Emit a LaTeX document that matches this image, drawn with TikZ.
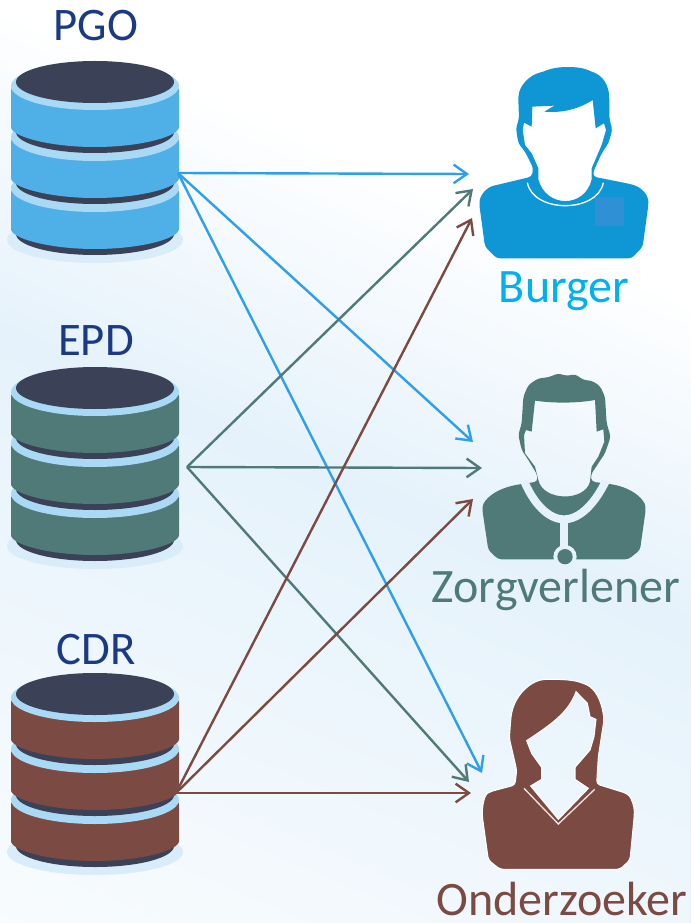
\documentclass[tikz,border=0pt]{standalone}
\usepackage{fontspec}
\setmainfont{Carlito}
\usetikzlibrary{arrows.meta}
\definecolor{bgmid}{HTML}{E5F2FB}
\definecolor{dbdark}{HTML}{3B4257}
\definecolor{dbring}{HTML}{A9D9F5}
\definecolor{dbshadow}{HTML}{D8ECF9}
\definecolor{pgoblue}{HTML}{4FB0E8}
\definecolor{epdgreen}{HTML}{4F7A77}
\definecolor{cdrbrown}{HTML}{7B4A42}
\definecolor{arrowblue}{HTML}{2F9FEA}
\definecolor{burgerblue}{HTML}{0F96D4}
\definecolor{burgerpatch}{HTML}{2F90D6}
\definecolor{burgertext}{HTML}{00B0F0}
\definecolor{titleblue}{HTML}{1B3A85}
\tikzset{
  tag/.style={font=\fontsize{35}{40}\selectfont, anchor=base, inner sep=0pt},
  bigtag/.style={tag, font=\fontsize{36}{40}\selectfont},
  flow/.style={-{Straight Barb[length=10pt,width=14pt]}, line width=1.8pt},
}
% one layer of a database, #1 = top of the layer, #2 = colour
\def\dblayer#1#2{
  \fill[dbdark] (95, #1+46) ellipse [x radius=79, y radius=21];
  \fill[#2, rounded corners=3pt] (11, #1) -- (11, #1+37) arc [start angle=180, end angle=0, x radius=84, y radius=24] -- (179, #1) -- cycle;
  \fill[dbring] (95, #1) ellipse [x radius=84, y radius=24];
}
% #1 = top of the stack, #2 = colour
\def\dbstack#1#2{
  \fill[dbshadow] (95, #1+154) ellipse [x radius=88, y radius=23];
  \dblayer{#1+102}{#2}
  \dblayer{#1+51}{#2}
  \dblayer{#1}{#2}
  \fill[dbdark] (95, #1-4) ellipse [x radius=79, y radius=21];
}

\begin{document}
\begin{tikzpicture}[x=0.75pt, y=-0.75pt]
  \useasboundingbox (0, 0) rectangle (690, 923);
  % background
  \begin{scope}
    \clip (0, 0) rectangle (690, 923);
    \fill[white] (0, 0) rectangle (690, 923);
    \foreach \d in {0,8,...,856} {
      \pgfmathsetmacro\tint{\d<300 ? \d/3 : 100-(\d-300)/550*75}
      \fill[bgmid!\tint!white, rotate=-23] (-500, \d) rectangle (1300, 1400);
    }
  \end{scope}

  % databases
  \dbstack{86}{pgoblue}
  \dbstack{392}{epdgreen}
  \dbstack{698}{cdrbrown}
  \node[tag, text=titleblue] (pgo) at (96, 41) {PGO};
  \node[tag, text=titleblue] (epd) at (96, 355) {EPD};
  \node[tag, text=titleblue] (cdr) at (96, 664) {CDR};

  % burger
  \begin{scope}[shift={(450, 50)}, scale=1/3]
    \fill[burgerblue, even odd rule, rounded corners=2.5pt]
      (478, 175) -- (478, 205)
      -- (487, 240) -- (475, 280) -- (455, 310) -- (430, 365) -- (430, 380) -- (540, 402)
      .. controls (575, 412) and (595, 435) .. (595, 465) -- (578, 590) -- (545, 625) -- (140, 625) -- (105, 590) -- (88, 465)
      .. controls (90, 435) and (110, 412) .. (140, 405) -- (245, 380) -- (250, 355) -- (225, 305)
      -- (205, 280) -- (198, 235) -- (207, 205) -- (205, 150)
      .. controls (207, 105) and (240, 75) .. (280, 65)
      .. controls (320, 48) and (385, 48) .. (420, 63)
      .. controls (460, 78) and (476, 105) .. (478, 150) -- cycle
      [sharp corners]
      (247, 170) -- (313, 167) -- (283, 185) .. controls (340, 190) and (390, 175) .. (428, 150) -- (437, 235)
      -- (462, 220) -- (468, 240) -- (455, 285) -- (425, 355) -- (425, 388)
      .. controls (405, 475) and (288, 475) .. (265, 388) -- (265, 355) -- (245, 310) -- (225, 285)
      -- (218, 240) -- (222, 218) -- (245, 230) -- cycle;
    \draw[white, line width=1pt] (232, 398) .. controls (250, 490) and (442, 490) .. (460, 398);
    \fill[burgerpatch] (435, 440) rectangle (522, 527);
  \end{scope}
  \node[bigtag, text=burgertext] (burger) at (564, 302) {Burger};

  % zorgverlener
  \begin{scope}[shift={(420, 360)}, scale=1/3]
    \fill[epdgreen, even odd rule, rounded corners=2.5pt]
      (415, 40) -- (440, 48) -- (465, 42) -- (490, 60) -- (515, 62) -- (540, 78) -- (555, 110) -- (560, 190)
      -- (572, 230) -- (555, 280) -- (535, 310) -- (512, 345) -- (515, 365) -- (570, 372)
      .. controls (640, 385) and (675, 420) .. (677, 450) -- (660, 570) -- (625, 598) -- (235, 598) -- (205, 570) -- (187, 450)
      .. controls (190, 420) and (225, 385) .. (305, 372) -- (352, 365) -- (352, 345) -- (325, 300) -- (305, 270)
      -- (295, 225) -- (305, 190) -- (310, 110) -- (325, 75) -- (355, 55) -- (385, 52) -- cycle
      [sharp corners]
      (345, 122) .. controls (400, 130) and (470, 130) .. (525, 120) -- (530, 215) -- (550, 208) -- (553, 245) -- (535, 290)
      -- (515, 320) -- (510, 365) .. controls (495, 425) and (370, 425) .. (355, 360) -- (345, 320)
      -- (315, 280) -- (312, 225) -- (318, 210) -- (335, 215) -- cycle;
    \draw[bgmid, line width=6pt] (312, 362) .. controls (340, 430) and (385, 478) .. (432, 478) .. controls (480, 478) and (525, 430) .. (558, 362);
    \draw[bgmid, line width=6pt] (432, 478) -- (432, 570);
    \fill[bgmid] (435, 590) circle (35);
    \fill[epdgreen] (435, 590) circle (23);
  \end{scope}
  \node[bigtag, text=epdgreen] (zorg) at (556, 602) {Zorgverlener};

  % onderzoeker
  \begin{scope}[shift={(420, 660)}, scale=1/3]
    \filldraw[fill=cdrbrown, draw=white, line width=0.8pt, even odd rule, rounded corners=2.5pt]
      (535, 290) -- (530, 372) -- (620, 400) .. controls (635, 415) and (643, 440) .. (643, 465) -- (630, 600)
      -- (600, 628) -- (240, 628) -- (205, 600) -- (187, 470) .. controls (187, 430) and (195, 405) .. (210, 395)
      -- (285, 375) -- (290, 330) -- (268, 235) -- (272, 180)
      .. controls (280, 110) and (330, 58) .. (390, 58)
      .. controls (430, 58) and (460, 60) .. (490, 70)
      .. controls (525, 85) and (545, 120) .. (552, 180) -- cycle
      [sharp corners]
      (468, 95) .. controls (445, 160) and (390, 195) .. (320, 242) -- (335, 280) -- (365, 322) -- (365, 358)
      -- (332, 378) -- (415, 478) -- (505, 385) -- (465, 358) -- (465, 322) -- (510, 270) -- (522, 230) -- (528, 178)
      -- (510, 170) -- (502, 130) -- cycle;
    \draw[white!85!cdrbrown, line width=1pt] (312, 385) -- (415, 492) -- (524, 388);
  \end{scope}
  \node[bigtag, text=cdrbrown] (onder) at (562, 915) {Onderzoeker};

  % connectors
  \coordinate (pgoout) at (178, 173);
  \coordinate (epdout) at (187, 467);
  \coordinate (cdrout) at (176, 793);
  \coordinate (burgerpgo) at (469, 174);
  \coordinate (burgerepd) at (473, 189);
  \coordinate (burgercdr) at (472, 218);
  \coordinate (zorgpgo) at (473, 442);
  \coordinate (zorgepd) at (482, 468);
  \coordinate (zorgcdr) at (473, 499);
  \coordinate (onderpgo) at (482, 773);
  \coordinate (onderepd) at (469, 782);
  \coordinate (ondercdr) at (471, 793);
  \draw[flow, arrowblue] (pgoout) -- (burgerpgo);
  \draw[flow, arrowblue] (pgoout) -- (zorgpgo);
  \draw[flow, arrowblue] (pgoout) -- (onderpgo);
  \draw[flow, epdgreen] (epdout) -- (burgerepd);
  \draw[flow, epdgreen] (epdout) -- (zorgepd);
  \draw[flow, epdgreen] (epdout) -- (onderepd);
  \draw[flow, cdrbrown] (cdrout) -- (burgercdr);
  \draw[flow, cdrbrown] (cdrout) -- (zorgcdr);
  \draw[flow, cdrbrown] (cdrout) -- (ondercdr);
\end{tikzpicture}
\end{document}
